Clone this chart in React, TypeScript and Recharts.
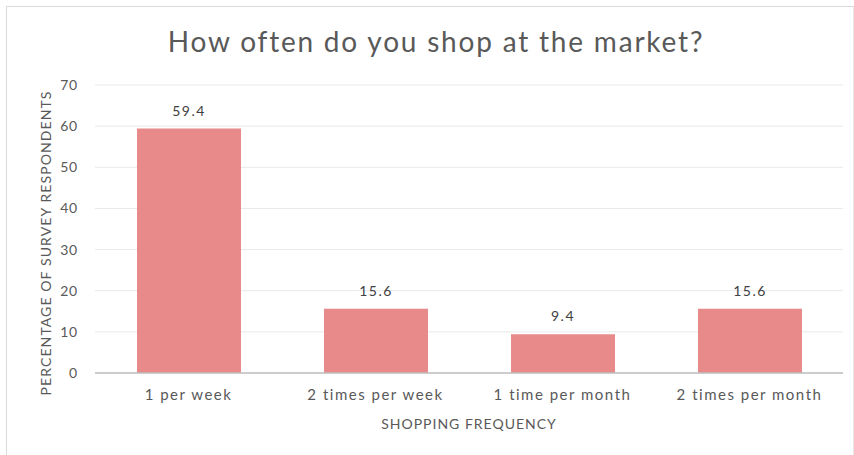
import { BarChart, Bar, XAxis, YAxis, CartesianGrid, LabelList, Label } from 'recharts';

const categories = ['1 per week', '2 times per week', '1 time per month', '2 times per month'];
const percentages = [59.4, 15.6, 9.4, 15.6];
const yTicks = [0, 10, 20, 30, 40, 50, 60, 70];

const data = categories.map((name, i) => ({ name, value: percentages[i] }));

const FONT = 'Lato, "Open Sans", sans-serif';
const TEXT = '#595959';

export default function App() {
  return (
    <div style={{ position: 'absolute', left: 0, top: 0, width: 854, height: 455, background: '#fff', fontFamily: FONT }}>
      <div
        style={{
          position: 'absolute',
          left: 6,
          top: 6,
          width: 846,
          height: 449,
          borderLeft: '1px solid #d9d9d9',
          borderTop: '1px solid #d9d9d9',
          borderRight: '1px solid #e6e6e6',
        }}
      />
      <div
        style={{
          position: 'absolute',
          left: 0,
          top: 24,
          width: 872,
          textAlign: 'center',
          fontSize: 28,
          lineHeight: '34px',
          color: TEXT,
          letterSpacing: 1.8,
        }}
      >
        How often do you shop at the market?
      </div>
      <BarChart
        width={854}
        height={455}
        data={data}
        margin={{ top: 85, right: 11, bottom: 22, left: 30 }}
        style={{ position: 'absolute', left: 0, top: 0 }}
      >
        <CartesianGrid vertical={false} stroke="#e9e9e9" />
        <XAxis
          dataKey="name"
          height={60}
          axisLine={{ stroke: '#bfbfbf', strokeWidth: 1.5 }}
          tickLine={false}
          tickSize={0}
          tickMargin={16}
          tick={{ fill: TEXT, fontSize: 15, fontFamily: FONT, letterSpacing: 1.5 }}
          interval={0}
        >
          <Label
            value="SHOPPING FREQUENCY"
            position="insideBottom"
            offset={4}
            style={{ fill: TEXT, fontSize: 14, fontFamily: FONT, letterSpacing: 1 }}
          />
        </XAxis>
        <YAxis
          width={65}
          domain={[0, 70]}
          ticks={yTicks}
          axisLine={false}
          tickLine={false}
          tickSize={0}
          tickMargin={17}
          tick={{ fill: TEXT, fontSize: 14, fontFamily: FONT, letterSpacing: 0.8 }}
        >
          <Label
            content={() => (
              <text
                x={45}
                y={243}
                transform="rotate(-90 45 243)"
                textAnchor="middle"
                dominantBaseline="central"
                fill={TEXT}
                fontSize={14}
                fontFamily={FONT}
                letterSpacing={1.1}
              >
                PERCENTAGE OF SURVEY RESPONDENTS
              </text>
            )}
          />
        </YAxis>
        <Bar dataKey="value" fill="#e8898a" barSize={104} isAnimationActive={false}>
          <LabelList
            dataKey="value"
            position="top"
            offset={13}
            fill="#404040"
            fontSize={14}
            fontFamily={FONT}
            letterSpacing={1.5}
          />
        </Bar>
      </BarChart>
    </div>
  );
}
